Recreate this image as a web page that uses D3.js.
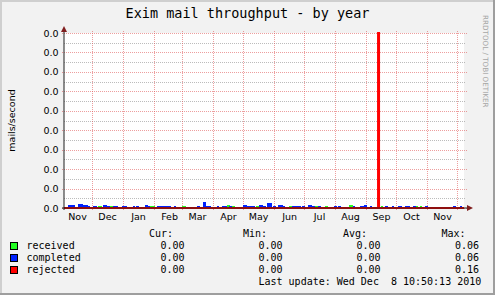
<!DOCTYPE html>
<html>
<head>
<meta charset="utf-8">
<script src="https://cdn.jsdelivr.net/npm/d3@7"></script>
<style>
  html, body { margin: 0; padding: 0; background: #fff; }
  svg { display: block; }
  text { white-space: pre; }
</style>
</head>
<body>
<div id="chart"></div>
<script>
const width = 495;
const height = 295;

const title = "Exim mail throughput - by year";
const yAxisTitle = "mails/second";
const watermark = "RRDTOOL / TOBI OETIKER";
const timeStart = "2009-11-03 10:50";
const timeEnd = "2010-12-08 10:50";
const yMax = 0.16;
const yTickLabels = ["0.0", "0.0", "0.0", "0.0", "0.0", "0.0", "0.0", "0.0", "0.0", "0.0"];
const monthLabels = ["Nov", "Dec", "Jan", "Feb", "Mar", "Apr", "May", "Jun", "Jul", "Aug", "Sep", "Oct", "Nov"];

// [first day, number of days, mails/second]
const received = [
  ["2009-12-07", 4, 0.0018], ["2009-12-19", 3, 0.0014], ["2010-01-28", 5, 0.0014],
  ["2010-03-01", 4, 0.0014], ["2010-04-15", 3, 0.0023], ["2010-04-20", 3, 0.0014],
  ["2010-05-14", 3, 0.0014], ["2010-06-16", 3, 0.0014], ["2010-07-12", 4, 0.0018],
  ["2010-07-22", 3, 0.0014], ["2010-08-15", 4, 0.0023], ["2010-09-16", 2, 0.0014],
  ["2010-10-03", 2, 0.0014], ["2010-10-21", 2, 0.0014], ["2010-10-25", 2, 0.0014]
];
const completed = [
  ["2009-11-07", 7, 0.0027], ["2009-11-17", 5, 0.0037], ["2009-11-22", 5, 0.0027],
  ["2009-11-27", 2, 0.0014], ["2009-12-02", 4, 0.0018], ["2009-12-12", 4, 0.0027],
  ["2009-12-16", 3, 0.0018], ["2009-12-22", 5, 0.0018], ["2009-12-31", 5, 0.0014],
  ["2010-01-11", 2, 0.0014], ["2010-01-14", 3, 0.0014], ["2010-01-23", 3, 0.0027],
  ["2010-01-26", 2, 0.0018], ["2010-02-04", 5, 0.0018], ["2010-02-09", 3, 0.0018],
  ["2010-02-12", 6, 0.0014], ["2010-02-21", 2, 0.0014], ["2010-03-16", 3, 0.0014],
  ["2010-03-22", 3, 0.0059], ["2010-03-25", 2, 0.0018], ["2010-03-27", 3, 0.0014],
  ["2010-04-05", 2, 0.0018], ["2010-04-10", 5, 0.0014], ["2010-04-17", 3, 0.0018],
  ["2010-05-01", 4, 0.0027], ["2010-05-05", 4, 0.0018], ["2010-05-09", 4, 0.0014],
  ["2010-05-17", 4, 0.0027], ["2010-05-21", 3, 0.0018], ["2010-05-25", 5, 0.0045],
  ["2010-05-31", 3, 0.0014], ["2010-06-05", 5, 0.0027], ["2010-06-10", 2, 0.0018],
  ["2010-06-19", 5, 0.0014], ["2010-06-24", 4, 0.0018], ["2010-06-29", 3, 0.0014],
  ["2010-07-05", 4, 0.0027], ["2010-07-09", 3, 0.0018], ["2010-07-15", 3, 0.0018],
  ["2010-07-31", 3, 0.0018], ["2010-08-04", 3, 0.0014], ["2010-08-19", 2, 0.0014],
  ["2010-08-26", 4, 0.0018], ["2010-08-30", 3, 0.0027], ["2010-09-05", 2, 0.0014],
  ["2010-09-20", 3, 0.0018], ["2010-09-27", 2, 0.0014], ["2010-10-03", 4, 0.0014],
  ["2010-10-10", 5, 0.0014], ["2010-10-18", 3, 0.0014], ["2010-10-30", 3, 0.0014],
  ["2010-11-27", 3, 0.0018], ["2010-12-04", 2, 0.0014]
];
// change points of the rejected line
const rejected = [
  ["2009-11-03 10:50", 0], ["2010-09-13 12:00", 0.16], ["2010-09-14 12:00", 0], ["2010-12-08 10:50", 0]
];

const seriesNames = ["received", "completed", "rejected"];
const seriesColors = ["#22ff22", "#0022ff", "#ff0000"];
const statHeaders = ["Cur:", "Min:", "Avg:", "Max:"];
const curValues = ["0.00", "0.00", "0.00"];
const minValues = ["0.00", "0.00", "0.00"];
const avgValues = ["0.00", "0.00", "0.00"];
const maxValues = ["0.06", "0.06", "0.16"];
const lastUpdate = "Last update: Wed Dec  8 10:50:13 2010";

const parseDay = d3.timeParse("%Y-%m-%d");
const parseTime = d3.timeParse("%Y-%m-%d %H:%M");

const plotLeft = 64, plotRight = 464, plotTop = 33, plotBottom = 208;

const x = d3.scaleTime().domain([parseTime(timeStart), parseTime(timeEnd)]).range([plotLeft, plotRight]);
const y = d3.scaleLinear().domain([0, yMax]).range([plotBottom, plotTop]);

const svg = d3.select("#chart").append("svg")
  .attr("width", width)
  .attr("height", height);

// background with rrdtool style shading
svg.append("rect").attr("width", width).attr("height", height).attr("fill", "#f2f2f2");
svg.append("path").attr("d", `M0,0H${width}V2H2V${height}H0Z`).attr("fill", "#cfcfcf");
svg.append("path").attr("d", `M${width},0V${height}H0V${height - 2}H${width - 2}V0Z`).attr("fill", "#9e9e9e");

svg.append("rect")
  .attr("x", plotLeft).attr("y", plotTop)
  .attr("width", plotRight - plotLeft).attr("height", plotBottom - plotTop)
  .attr("fill", "#fff");

// grid
const yStep = yMax / (yTickLabels.length - 1);
const yMajor = yTickLabels.map((_, i) => i * yStep);
const yMinor = yMajor.slice(1).map((v) => v - yStep / 2);

const grid = svg.append("g").attr("shape-rendering", "crispEdges");
grid.selectAll(".minor").data(yMinor).enter().append("line")
  .attr("x1", plotLeft).attr("x2", plotRight + 2)
  .attr("y1", (d) => Math.round(y(d)) + 0.5).attr("y2", (d) => Math.round(y(d)) + 0.5)
  .attr("stroke", "rgba(143,143,143,0.6)")
  .attr("stroke-dasharray", "1,1");
grid.selectAll(".major").data(yMajor).enter().append("line")
  .attr("x1", plotLeft - 2).attr("x2", plotRight + 3)
  .attr("y1", (d) => Math.round(y(d)) + 0.5).attr("y2", (d) => Math.round(y(d)) + 0.5)
  .attr("stroke", "rgba(222,79,79,0.55)")
  .attr("stroke-dasharray", "1,1");

const months = d3.timeMonth.range(x.domain()[0], x.domain()[1]);
grid.selectAll(".vmajor").data(months).enter().append("line")
  .attr("x1", (d) => Math.round(x(d)) + 0.5).attr("x2", (d) => Math.round(x(d)) + 0.5)
  .attr("y1", plotTop - 2).attr("y2", plotBottom + 2)
  .attr("stroke", "rgba(222,79,79,0.55)")
  .attr("stroke-dasharray", "1,1");

// series
const seg = (d) => {
  const start = parseDay(d[0]);
  return { x0: x(start), x1: x(d3.timeDay.offset(start, d[1])), v: d[2] };
};

svg.append("g").selectAll("rect").data(received.map(seg)).enter().append("rect")
  .attr("x", (d) => d.x0).attr("width", (d) => d.x1 - d.x0)
  .attr("y", (d) => y(d.v)).attr("height", (d) => y(0) - y(d.v))
  .attr("fill", seriesColors[0])
  .attr("shape-rendering", "crispEdges");

svg.append("g").selectAll("rect").data(completed.map(seg)).enter().append("rect")
  .attr("x", (d) => d.x0).attr("width", (d) => d.x1 - d.x0)
  .attr("y", (d) => y(d.v)).attr("height", (d) => y(0) - y(d.v))
  .attr("fill", seriesColors[1])
  .attr("shape-rendering", "crispEdges");

const rejLine = d3.line()
  .x((d) => x(parseTime(d[0])))
  .y((d) => y(d[1]))
  .curve(d3.curveStepAfter);
svg.append("path")
  .attr("d", rejLine(rejected))
  .attr("fill", "none")
  .attr("stroke", seriesColors[2])
  .attr("stroke-width", 2);

// axes
svg.append("line")
  .attr("x1", plotLeft - 2).attr("x2", plotRight + 4)
  .attr("y1", plotBottom).attr("y2", plotBottom)
  .attr("stroke", "#1f1f1f");
svg.append("line")
  .attr("x1", plotLeft).attr("x2", plotLeft)
  .attr("y1", plotBottom + 2).attr("y2", plotTop - 2)
  .attr("stroke", "#1f1f1f");
svg.append("path")
  .attr("d", `M${plotLeft - 3},${plotTop - 1}L${plotLeft + 3},${plotTop - 1}L${plotLeft},${plotTop - 7}Z`)
  .attr("fill", "#801f1f");
svg.append("path")
  .attr("d", `M${plotRight + 3},${plotBottom - 3}L${plotRight + 3},${plotBottom + 3}L${plotRight + 9},${plotBottom}Z`)
  .attr("fill", "#801f1f");

// axis labels
svg.append("g").selectAll("text").data(yMajor).enter().append("text")
  .attr("x", plotLeft - 5.5)
  .attr("y", (d) => y(d) + 3.5)
  .attr("text-anchor", "end")
  .attr("font-family", "DejaVu Sans")
  .attr("font-size", 9.5)
  .attr("fill", "#000")
  .text((d, i) => yTickLabels[i]);

const labelMonths = d3.timeMonth.range(d3.timeMonth.floor(x.domain()[0]), x.domain()[1]).slice(0, monthLabels.length);
svg.append("g").selectAll("text").data(labelMonths).enter().append("text")
  .attr("x", (d) => x(d3.timeDay.offset(d, 16)))
  .attr("y", 220)
  .attr("text-anchor", "middle")
  .attr("font-family", "DejaVu Sans")
  .attr("font-size", 9.5)
  .attr("fill", "#000")
  .text((d, i) => monthLabels[i]);

svg.append("text")
  .attr("transform", `translate(15,${(plotTop + plotBottom) / 2}) rotate(-90)`)
  .attr("text-anchor", "middle")
  .attr("font-family", "DejaVu Sans")
  .attr("font-size", 9.5)
  .attr("fill", "#000")
  .text(yAxisTitle);

svg.append("text")
  .attr("x", width / 2)
  .attr("y", 18)
  .attr("text-anchor", "middle")
  .attr("font-family", "DejaVu Sans Mono")
  .attr("font-size", 13.5)
  .attr("fill", "#000")
  .text(title);

svg.append("text")
  .attr("transform", "translate(482.5,15) rotate(90)")
  .attr("font-family", "DejaVu Sans")
  .attr("font-size", 7.2)
  .attr("fill", "#a6a6a6")
  .text(watermark);

// legend
const monoFont = "DejaVu Sans Mono";
const legend = svg.append("g");
const colX = [160.5, 258.5, 356.5, 455];
const headX = [149, 243, 343, 441.5];

statHeaders.forEach((h, i) => {
  legend.append("text").attr("x", headX[i]).attr("y", 237)
    .attr("font-family", monoFont).attr("font-size", 10)
    .text(h);
});

const columns = [curValues, minValues, avgValues, maxValues];
seriesNames.forEach((name, r) => {
  const by = 249 + r * 12;
  legend.append("rect")
    .attr("x", 10.5).attr("y", by - 6.5)
    .attr("width", 7).attr("height", 7)
    .attr("fill", seriesColors[r])
    .attr("stroke", "#000");
  legend.append("text").attr("x", 26.5).attr("y", by)
    .attr("font-family", monoFont).attr("font-size", 10)
    .text(name);
  columns.forEach((col, c) => {
    legend.append("text").attr("x", colX[c]).attr("y", by)
      .attr("font-family", monoFont).attr("font-size", 10)
      .text(col[r]);
  });
});

legend.append("text").attr("x", 258.5).attr("y", 285)
  .attr("font-family", monoFont).attr("font-size", 10)
  .text(lastUpdate);
</script>
</body>
</html>
